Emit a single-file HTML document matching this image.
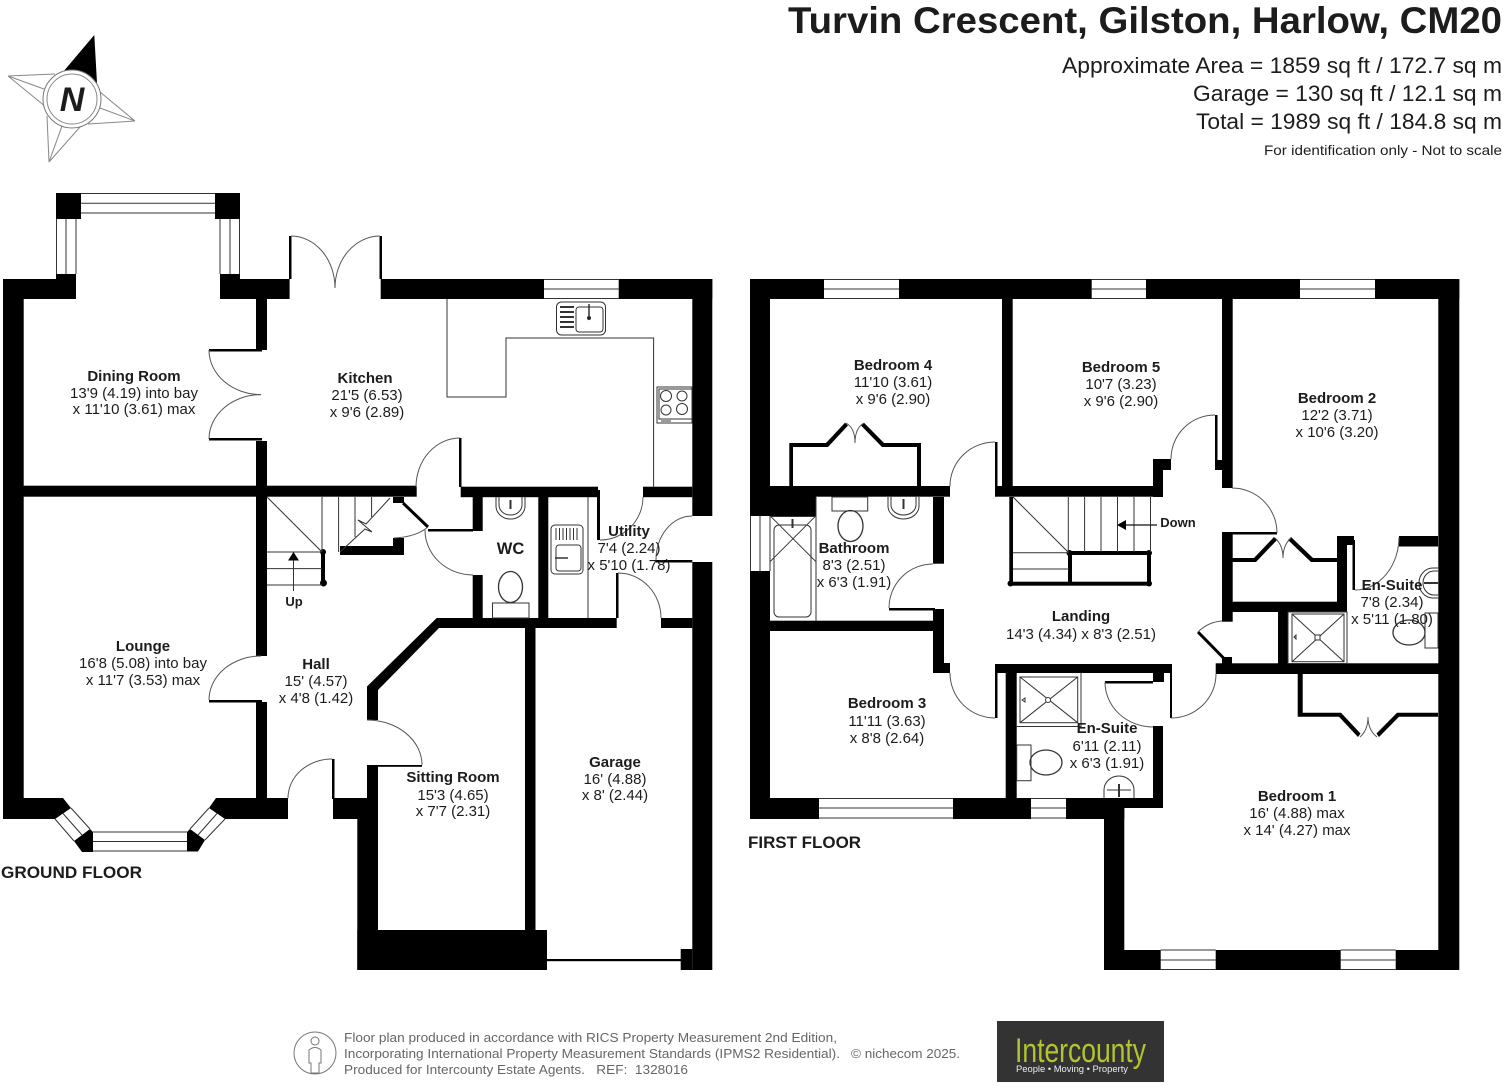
<!DOCTYPE html>
<html><head><meta charset="utf-8"><style>
html,body{margin:0;padding:0;background:#fff;width:1504px;height:1087px;overflow:hidden}
svg{display:block}
text{font-family:"Liberation Sans",sans-serif;fill:#1c1c1c}
.l text,.l{font-size:15px;text-anchor:middle}
.b{font-weight:bold}
.th{fill:none;stroke:#333;stroke-width:1}
.a{fill:none;stroke:#555;stroke-width:1}
</style></head><body>
<svg width="1504" height="1087" viewBox="0 0 1504 1087" xmlns="http://www.w3.org/2000/svg">
<rect width="1504" height="1087" fill="#fff"/>

<!-- header -->
<text x="1502" y="33" text-anchor="end" font-size="37" font-weight="bold" fill="#111" textLength="714" lengthAdjust="spacingAndGlyphs">Turvin Crescent, Gilston, Harlow, CM20</text>
<text x="1502" y="73" text-anchor="end" font-size="22" textLength="440" lengthAdjust="spacingAndGlyphs">Approximate Area = 1859 sq ft / 172.7 sq m</text>
<text x="1502" y="101" text-anchor="end" font-size="22" textLength="309" lengthAdjust="spacingAndGlyphs">Garage = 130 sq ft / 12.1 sq m</text>
<text x="1502" y="129" text-anchor="end" font-size="22" textLength="306" lengthAdjust="spacingAndGlyphs">Total = 1989 sq ft / 184.8 sq m</text>
<text x="1502" y="155" text-anchor="end" font-size="14" textLength="238" lengthAdjust="spacingAndGlyphs">For identification only - Not to scale</text>

<!-- compass -->
<g>
<path d="M8 76L55 74M8 76L46 107M8 76L44 89M135 121L100 92M135 121L88 124M135 121L100 108M49 162L47 116M49 162L80 127M49 162L62 126" fill="none" stroke="#888" stroke-width="1"/>
<path d="M94.300 35L63 72Q82 68 97 83Z" fill="#000"/>
<circle cx="72" cy="99" r="29" fill="#fff" stroke="#777" stroke-width="1"/>
<circle cx="72" cy="99" r="25" fill="#fff" stroke="#888" stroke-width="1"/>
<text x="72" y="111" text-anchor="middle" font-size="34" font-weight="bold" font-style="italic" fill="#000">N</text>
</g>

<!-- ============ GROUND FLOOR ============ -->
<g fill="#000" stroke="none">
<rect x="3" y="279" width="73" height="20"/>
<rect x="3" y="279" width="20.700" height="540"/>
<rect x="56" y="193" width="25" height="26"/>
<rect x="215" y="193" width="25" height="26"/>
<rect x="56" y="274" width="20" height="25"/>
<rect x="220" y="274" width="20" height="25"/>
<rect x="220" y="279" width="69.600" height="20"/>
<rect x="256" y="299" width="11" height="51"/>
<rect x="209" y="349" width="53" height="2.500"/>
<rect x="209" y="438" width="53" height="2.500"/>
<rect x="256" y="441" width="11" height="45"/>
<rect x="289" y="236" width="2.500" height="43"/>
<rect x="379.500" y="236" width="2.500" height="43"/>
<rect x="380.700" y="279" width="163.300" height="20"/>
<rect x="618.700" y="279" width="93.600" height="20"/>
<rect x="692.300" y="279" width="20" height="237"/>
<rect x="692.300" y="562" width="20" height="408"/>
<rect x="3" y="485.700" width="413.700" height="11"/>
<rect x="459" y="438" width="2.500" height="49"/>
<rect x="460.700" y="486.700" width="137.300" height="10.500"/>
<rect x="597" y="490" width="3" height="50"/>
<rect x="643" y="486.700" width="49.300" height="10.500"/>
<rect x="393" y="497" width="11" height="6"/>
<rect x="393" y="538" width="11" height="17"/>
<rect x="340" y="546" width="64" height="9"/>
<rect x="321" y="552" width="4" height="31"/>
<circle cx="323" cy="552" r="3"/>
<circle cx="323.500" cy="583" r="3.500"/>
<rect x="256" y="496" width="11" height="160"/>
<rect x="209" y="700" width="53" height="2.500"/>
<rect x="256" y="702" width="11" height="96"/>
<polygon points="3,798 63,798 71,808 55,819 3,819"/>
<polygon points="90,829 93,832 93,852 82,852 74,841"/>
<polygon points="187,832 190,829 205,840 198,851.500 187,851.500"/>
<polygon points="209,808 216,798 288,798 288,819 225,819"/>
<rect x="332" y="759" width="2.500" height="40"/>
<rect x="333" y="798" width="34" height="21"/>
<rect x="357.300" y="819" width="20.700" height="151"/>
<rect x="367" y="765.500" width="11" height="54"/>
<rect x="367" y="765" width="55" height="1.800"/>
<polygon points="367,686.500 436.700,618 616.700,618 616.700,628 439,628 378,690 378,720 367,720"/>
<rect x="661" y="618" width="31.300" height="10"/>
<rect x="428" y="529" width="45" height="2.500"/>
<rect x="472.700" y="497" width="10" height="34"/>
<rect x="472.700" y="575" width="10" height="43"/>
<rect x="538.300" y="497" width="10" height="121"/>
<rect x="616" y="573" width="2.500" height="45"/>
<rect x="656" y="560" width="36.300" height="2.500"/>
<rect x="525" y="628" width="10.500" height="302"/>
<rect x="357.300" y="930" width="189.700" height="40"/>
<rect x="535.500" y="949" width="11.500" height="21"/>
<rect x="680.700" y="949" width="11.600" height="21"/>
<rect x="547" y="959" width="134" height="2.200"/>
</g>
<path d="M403 503L428 527" stroke="#000" stroke-width="3" fill="none"/>
<!-- ground windows -->
<g class="th">
<path d="M81 193.500H215M81 203.200H215M81 213H215"/>
<path d="M56.500 219V274M66 219V274M76 219V274M220 219V274M230 219V274M239.500 219V274"/>
<path d="M544 279.500H618.700M544 289H618.700M544 298.500H618.700"/>
<path d="M93 832H187M93 841.500H187M93 851H187"/>
<path d="M71 808L90 829M63 813.500L82 835M55 819L74 841M190 829L209 808M198 835L217 813.500M205 840L225 819"/>
</g>
<!-- kitchen counter -->
<g class="th">
<path d="M447 299V397H506V338H653.600V487"/>
<path d="M588 497V618"/>
<rect x="556.500" y="302" width="49" height="33" rx="5"/>
<rect x="576" y="307" width="27" height="25" rx="3"/>
<path d="M560 307H574M560 312H574M560 317H574M560 322H574M560 327H574" stroke-width="2"/>
<path d="M589 304V318" stroke-width="1.500"/>
<circle cx="589" cy="318" r="1.600" fill="#222"/>
<rect x="657" y="387" width="35" height="36"/>
<rect x="659" y="389" width="33" height="30"/>
<circle cx="666" cy="396" r="5.500"/>
<circle cx="682" cy="396" r="5"/>
<circle cx="666" cy="410" r="5"/>
<circle cx="682" cy="409" r="5.500"/>
<path d="M661 421H671"/>
<rect x="551" y="525" width="32" height="49" rx="4"/>
<rect x="556" y="545" width="25" height="26" rx="3"/>
<path d="M556 528V540M559.500 528V540M563 528V540M566.500 528V540M570 528V540M573.500 528V540M577 528V540"/>
<path d="M555 558H568" stroke-width="1.500"/>
<path d="M496 497V506A14.500 13 0 0 0 525 506V497"/>
<path d="M499 497V505A11.500 10 0 0 0 522 505V497"/>
<path d="M510.500 500V509" stroke-width="2"/>
<ellipse cx="510.500" cy="587" rx="12" ry="15.500" stroke-width="1.300"/>
<rect x="492.500" y="603" width="36.500" height="15"/>
</g>
<!-- stairs ground -->
<g class="th" stroke-width=".9">
<path d="M267 552H322M267 568.600H322M267 585H322M267 497L322 552M322 497V552M338.600 497V552M355 497V537M371.600 497V517"/>
<path d="M340 552L365 529L372 532L358 520L366 524L390 498"/>
<path d="M293.500 591V558"/>
</g>
<polygon points="293.500,552 288,560.500 299,560.500" fill="#000"/>
<!-- ground door arcs -->
<g class="a">
<path d="M291 236A44 52 0 0 1 335 288"/>
<path d="M380 236A45 52 0 0 0 335 288"/>
<path d="M209 350A52 44.600 0 0 0 261 394.600"/>
<path d="M209 439A52 44.600 0 0 1 261 394.600"/>
<path d="M460 438A44 49 0 0 0 416 487"/>
<path d="M425 530A48 45 0 0 0 473 575"/>
<path d="M428 527Q416 537 394 538"/>
<path d="M643 497A43 43 0 0 1 600 540"/>
<path d="M692 516A36 44 0 0 0 656 560"/>
<path d="M618 573A43 45 0 0 1 661 618"/>
<path d="M209 700A52 44 0 0 1 261 656"/>
<path d="M288 798A44 39 0 0 1 332 759"/>
<path d="M367 720A55 45 0 0 1 422 765"/>
</g>

<!-- ============ FIRST FLOOR ============ -->
<g fill="#000" stroke="none">
<rect x="750" y="279" width="74" height="20"/>
<rect x="899" y="279" width="192.700" height="20"/>
<rect x="1146" y="279" width="154" height="20"/>
<rect x="1375" y="279" width="84.300" height="20"/>
<rect x="1438.300" y="279" width="21" height="691"/>
<rect x="750" y="279" width="20" height="237"/>
<rect x="750" y="571" width="20" height="248"/>
<rect x="770" y="486" width="46" height="30"/>
<rect x="1002" y="299" width="10.700" height="187"/>
<rect x="770" y="486" width="180" height="10.700"/>
<rect x="995" y="486" width="168" height="10.700"/>
<rect x="995" y="442" width="2.500" height="46"/>
<rect x="933" y="497" width="11" height="66.700"/>
<rect x="889" y="608" width="46" height="2.500"/>
<rect x="933" y="609" width="11" height="64"/>
<rect x="933" y="663" width="17" height="10"/>
<rect x="995" y="664" width="2.500" height="54"/>
<rect x="995" y="664" width="176" height="9"/>
<rect x="1005.700" y="673" width="11" height="125"/>
<rect x="770" y="620.700" width="163" height="10.300"/>
<!-- bedroom 4 wardrobe -->
<path d="M789.300 486V443H826L845 422.700L848 425.500L828 447H793V486Z"/>
<path d="M921 486V443H884L864 422.700L861 425.500L882 447H917V486Z"/>
<!-- stairs FF -->
<rect x="1009.300" y="497" width="3.700" height="88"/>
<rect x="1010" y="581.700" width="139" height="4"/>
<rect x="1069" y="551" width="80" height="4"/>
<rect x="1068" y="553" width="4" height="30"/>
<rect x="1147" y="553" width="4" height="30"/>
<circle cx="1010.500" cy="583.500" r="3"/><circle cx="1149" cy="583.500" r="3"/>
<circle cx="1069.500" cy="553" r="3"/><circle cx="1149" cy="553" r="3"/>
<!-- bed5 -->
<rect x="1153" y="459" width="10" height="38"/>
<rect x="1153" y="459" width="18" height="11"/>
<rect x="1215" y="415" width="2.500" height="46"/>
<rect x="1215" y="460" width="8" height="10"/>
<rect x="1222" y="299" width="10.700" height="189"/>
<rect x="1232" y="532" width="45" height="2.500"/>
<rect x="1222" y="532" width="10.700" height="89.700"/>
<!-- bed2 wardrobe -->
<path d="M1232 558H1254L1274 537L1277 540L1256 562H1232Z"/>
<path d="M1337 558H1313L1291 537L1288 540L1311 562H1337Z"/>
<rect x="1337" y="536" width="10" height="76"/>
<rect x="1337" y="536" width="17" height="9"/>
<rect x="1352.500" y="540" width="2.500" height="50"/>
<rect x="1399" y="536" width="39" height="10.500"/>
<rect x="1232" y="601.700" width="115" height="10.300"/>
<rect x="1278" y="612" width="10" height="52"/>
<rect x="1222" y="657" width="10" height="7"/>
<rect x="1215.700" y="663.300" width="243" height="10.700"/>
<rect x="1170" y="664" width="2" height="54"/>
<rect x="1153" y="673" width="11" height="9"/>
<rect x="1105" y="681" width="48" height="2.500"/>
<rect x="1153" y="726" width="10" height="82"/>
<rect x="750" y="798" width="69" height="21"/>
<rect x="953" y="798" width="78" height="21"/>
<rect x="1066" y="798" width="58.300" height="21"/>
<rect x="1066" y="798" width="97" height="10"/>
<rect x="1104" y="808" width="20.300" height="162"/>
<rect x="1104" y="950" width="56.700" height="20"/>
<rect x="1215.700" y="950" width="125" height="20"/>
<rect x="1395.700" y="950" width="63" height="20"/>
<!-- bed1 wardrobe -->
<path d="M1297.700 674H1302.700V712.700H1341L1360.500 733.500L1358 737L1339 716.700H1297.700Z"/>
<path d="M1438 712.700H1397L1376.500 733.500L1379 737L1399 716.700H1438Z"/>
</g>
<path d="M1198 632L1224 658.500" stroke="#000" stroke-width="3" fill="none"/>
<!-- FF windows -->
<g class="th">
<path d="M824 279.500H899M824 289H899M824 298.500H899"/>
<path d="M1091.700 279.500H1146M1091.700 289H1146M1091.700 298.500H1146"/>
<path d="M1300 279.500H1375M1300 289H1375M1300 298.500H1375"/>
<path d="M750.500 516V571M760 516V571M770 516V571"/>
<path d="M819 798.500H953M819 808H953M819 818H953"/>
<path d="M1031 798.500H1066M1031 808H1066M1031 818H1066"/>
<path d="M1160.700 950H1215.700M1160.700 960H1215.700M1160.700 969.500H1215.700"/>
<path d="M1340.700 950H1395.700M1340.700 960H1395.700M1340.700 969.500H1395.700"/>
</g>
<!-- FF fixtures -->
<g class="th">
<path d="M770 516.500H816M816 497V620.700"/>
<rect x="774" y="525" width="37" height="92" rx="5"/>
<path d="M771 516.700L816 561.700M815 516.700L770 561.700"/>
<path d="M792.500 519V528" stroke-width="2"/>
<rect x="832" y="497" width="35.700" height="14"/>
<ellipse cx="850.500" cy="526" rx="12.500" ry="15.500" stroke-width="1.300"/>
<path d="M888 497V506A15.500 13 0 0 0 919 506V497"/>
<path d="M891 497V505A12.500 10 0 0 0 916 505V497"/>
<path d="M903.500 499V509" stroke-width="2"/>
<!-- ensuite bed2 -->
<rect x="1292" y="614" width="52" height="47.700"/>
<rect x="1288" y="612" width="59" height="51.500"/>
<path d="M1292 614L1344 661.700M1344 614L1292 661.700"/>
<rect x="1315" y="635" width="5" height="5" fill="#fff"/>
<path d="M1294 637l2 -2v4z"/>
<path d="M1438 568H1433A14 15 0 0 0 1433 598H1438"/>
<path d="M1438 571H1434A11 12 0 0 0 1434 595H1438"/>
<path d="M1424 583H1438" stroke-width="2"/>
<ellipse cx="1409" cy="632.500" rx="16" ry="12.500" stroke-width="1.300"/>
<rect x="1425" y="613" width="13" height="35"/>
<!-- ensuite bed3 -->
<rect x="1020" y="677" width="57.700" height="45.700"/>
<path d="M1016.700 726.500H1081V673"/>
<path d="M1020 677L1077.700 722.700M1077.700 677L1020 722.700"/>
<rect x="1045.500" y="697.500" width="5" height="5" rx="2.500" fill="#fff"/>
<path d="M1022 700l3 -2v4z"/>
<rect x="1016.700" y="745" width="14.300" height="35.700"/>
<ellipse cx="1046" cy="762.500" rx="16" ry="12.500" stroke-width="1.300"/>
<path d="M1104 798V790A15 14 0 0 1 1134 790V798"/>
<path d="M1107 790H1131"/>
<path d="M1119 784V797" stroke-width="2"/>
</g>
<!-- FF stair lines -->
<g class="th" stroke-width=".9">
<path d="M1013 552.700H1069M1013 569H1069M1013 497L1069 553M1068.300 497V552M1084.600 497V552M1101 497V552M1117.500 497V552M1134 497V552M1150.500 497V552"/>
</g>
<path d="M1126 525H1157" stroke="#111" stroke-width="1.200"/>
<polygon points="1117,525 1126,520 1126,530" fill="#000"/>
<!-- FF arcs -->
<g class="a">
<path d="M950 486A45 44 0 0 1 995 442"/>
<path d="M889 608A44 44 0 0 1 933 564"/>
<path d="M950 673A45 45 0 0 0 995 718"/>
<path d="M1171 459A44 44 0 0 1 1215 415"/>
<path d="M1232 488A45 45 0 0 1 1277 533"/>
<path d="M1399 537A44 53 0 0 1 1355 590"/>
<path d="M1198 632Q1208 622 1222 621"/>
<path d="M1216 674A45 44 0 0 1 1171 718"/>
<path d="M1105 682A48 45 0 0 0 1153 727"/>
<path d="M846 423Q855 428 855 443M864 423Q855 428 855 443"/>
<path d="M1275 538Q1283 545 1283 558M1291 538Q1283 545 1283 558"/>
<path d="M1360 737Q1368 730 1368 717M1377 737Q1368 730 1368 717"/>
</g>

<!-- labels -->
<g class="l">
<text class="b" x="134" y="381">Dining Room</text><text x="134" y="398">13'9 (4.19) into bay</text><text x="134" y="414">x 11'10 (3.61) max</text>
<text class="b" x="365" y="383">Kitchen</text><text x="367" y="400">21'5 (6.53)</text><text x="367" y="417">x 9'6 (2.89)</text>
<text class="b" x="143" y="651">Lounge</text><text x="143" y="668">16'8 (5.08) into bay</text><text x="143" y="685">x 11'7 (3.53) max</text>
<text class="b" x="316" y="669">Hall</text><text x="316" y="686">15' (4.57)</text><text x="316" y="703">x 4'8 (1.42)</text>
<text class="b" x="453" y="782">Sitting Room</text><text x="453" y="800">15'3 (4.65)</text><text x="453" y="816">x 7'7 (2.31)</text>
<text class="b" x="615" y="767">Garage</text><text x="615" y="784">16' (4.88)</text><text x="615" y="800">x 8' (2.44)</text>
<text class="b" x="629" y="536">Utility</text><text x="629" y="553">7'4 (2.24)</text><text x="629" y="570">x 5'10 (1.78)</text>
<text class="b" x="510.500" y="554" style="font-size:16.500px">WC</text>
<text class="b" x="294" y="606" style="font-size:13px">Up</text>
<text class="b" x="1178" y="527" style="font-size:13px">Down</text>
<text class="b" x="893" y="370">Bedroom 4</text><text x="893" y="387">11'10 (3.61)</text><text x="893" y="404">x 9'6 (2.90)</text>
<text class="b" x="854" y="553">Bathroom</text><text x="854" y="570">8'3 (2.51)</text><text x="854" y="587">x 6'3 (1.91)</text>
<text class="b" x="1121" y="372">Bedroom 5</text><text x="1121" y="389">10'7 (3.23)</text><text x="1121" y="406">x 9'6 (2.90)</text>
<text class="b" x="1337" y="403">Bedroom 2</text><text x="1337" y="420">12'2 (3.71)</text><text x="1337" y="437">x 10'6 (3.20)</text>
<text class="b" x="1392" y="590">En-Suite</text><text x="1392" y="607">7'8 (2.34)</text><text x="1392" y="624">x 5'11 (1.80)</text>
<text class="b" x="1081" y="621">Landing</text><text x="1081" y="639">14'3 (4.34) x 8'3 (2.51)</text>
<text class="b" x="887" y="708">Bedroom 3</text><text x="887" y="726">11'11 (3.63)</text><text x="887" y="743">x 8'8 (2.64)</text>
<text class="b" x="1107" y="733">En-Suite</text><text x="1107" y="751">6'11 (2.11)</text><text x="1107" y="768">x 6'3 (1.91)</text>
<text class="b" x="1297" y="801">Bedroom 1</text><text x="1297" y="818">16' (4.88) max</text><text x="1297" y="835">x 14' (4.27) max</text>
</g>
<text x="1" y="878" font-size="16.500" font-weight="bold" fill="#111" textLength="141" lengthAdjust="spacingAndGlyphs">GROUND FLOOR</text>
<text x="748" y="848" font-size="16.500" font-weight="bold" fill="#111" textLength="113" lengthAdjust="spacingAndGlyphs">FIRST FLOOR</text>

<!-- footer -->
<circle cx="315" cy="1053" r="21" fill="none" stroke="#777" stroke-width="1"/>
<circle cx="315" cy="1041" r="4" fill="none" stroke="#777"/>
<path d="M309 1050Q315 1045 321 1050V1063H319V1073H311V1063H309Z" fill="none" stroke="#777"/>
<g>
<text x="344" y="1042" font-size="13" style="fill:#666" textLength="493" lengthAdjust="spacingAndGlyphs">Floor plan produced in accordance with RICS Property Measurement 2nd Edition,</text>
<text x="344" y="1058" font-size="13" style="fill:#666" textLength="496" lengthAdjust="spacingAndGlyphs">Incorporating International Property Measurement Standards (IPMS2 Residential).</text>
<text x="851" y="1058" font-size="13" style="fill:#666" textLength="109" lengthAdjust="spacingAndGlyphs">© nichecom 2025.</text>
<text x="344" y="1074" font-size="13" style="fill:#666" textLength="344" lengthAdjust="spacingAndGlyphs" xml:space="preserve">Produced for Intercounty Estate Agents.   REF:  1328016</text>
</g>
<rect x="997" y="1021" width="167" height="61" fill="#333"/>
<text x="1015" y="1062" font-size="34" style="fill:#b4c32e" textLength="131" lengthAdjust="spacingAndGlyphs">Intercounty</text>
<text x="1016" y="1072" font-size="9" style="fill:#eee" textLength="112" lengthAdjust="spacingAndGlyphs">People  •  Moving  •  Property</text>
</svg>
</body></html>
